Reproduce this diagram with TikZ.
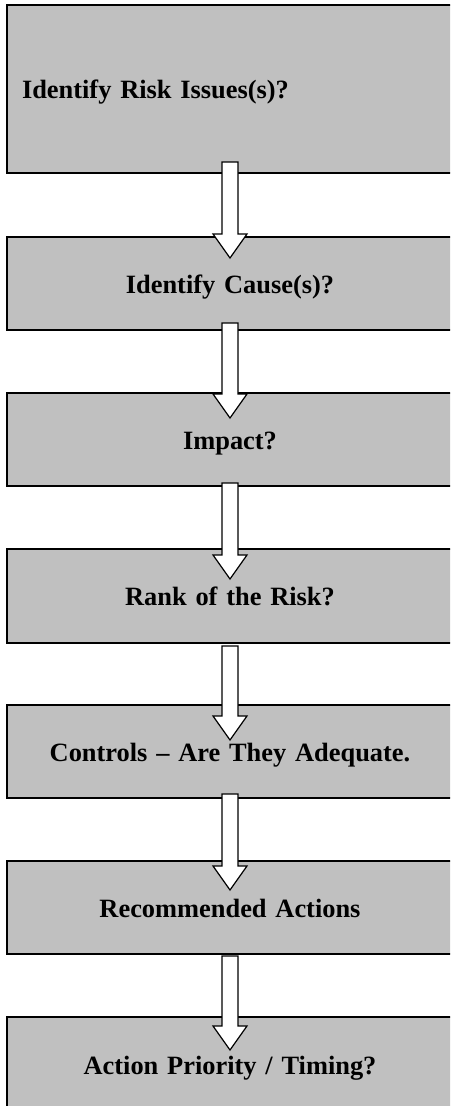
\documentclass[tikz,border=0pt]{standalone}
\usepackage{fontspec}
\setmainfont{Liberation Serif}
\usetikzlibrary{positioning,calc}
\definecolor{silver}{HTML}{C0C0C0}

\tikzset{
  stepbox/.style={draw=black, line width=1.5pt, fill=silver, outer sep=0pt,
    text width=416pt, inner xsep=15pt, inner ysep=0pt, minimum height=93pt,
    text height=19pt, text depth=0pt, align=center,
    font=\bfseries\fontsize{26.4}{31}\selectfont},
  blockarrow/.style={draw=black, line width=1.2pt, fill=white, line join=miter}
}

% hollow arrow from the bottom of one box into the next
\newcommand{\flowarrow}[4]{%
  \draw[blockarrow] ($(#1.south)+(-8,#3)$) -- ($(#1.south)+(8,#3)$)
    -- ($(#2.north)+(8,#4-24)$) -- ($(#2.north)+(17,#4-24)$)
    -- ($(#2.north)+(0,#4)$)
    -- ($(#2.north)+(-17,#4-24)$) -- ($(#2.north)+(-8,#4-24)$) -- cycle;
}

\begin{document}
\begin{tikzpicture}[x=1pt,y=-1pt]
\useasboundingbox (0,0) rectangle (450,1106);
\clip (0,0) rectangle (450,1106);

% Steps
\node[stepbox, anchor=north west, minimum height=168pt, align=left] (issues) at (7,5) {Identify Risk Issues(s)?};
\node[stepbox, below=64pt of issues] (cause) {Identify Cause(s)?};
\node[stepbox, below=63pt of cause] (impact) {Impact?};
\node[stepbox, below=63pt of impact, minimum height=94pt] (rank) {Rank of the Risk?};
\node[stepbox, below=62pt of rank] (controls) {Controls -- Are They Adequate.};
\node[stepbox, below=63pt of controls] (actions) {Recommended Actions};
\node[stepbox, below=63pt of actions, minimum height=96pt] (priority) {Action Priority / Timing?};

% Arrows
\flowarrow{issues}{cause}{-11}{21}
\flowarrow{cause}{impact}{-7}{25}
\flowarrow{impact}{rank}{-3}{30}
\flowarrow{rank}{controls}{3}{35}
\flowarrow{controls}{actions}{-4}{29}
\flowarrow{actions}{priority}{2}{33}

\end{tikzpicture}
\end{document}
